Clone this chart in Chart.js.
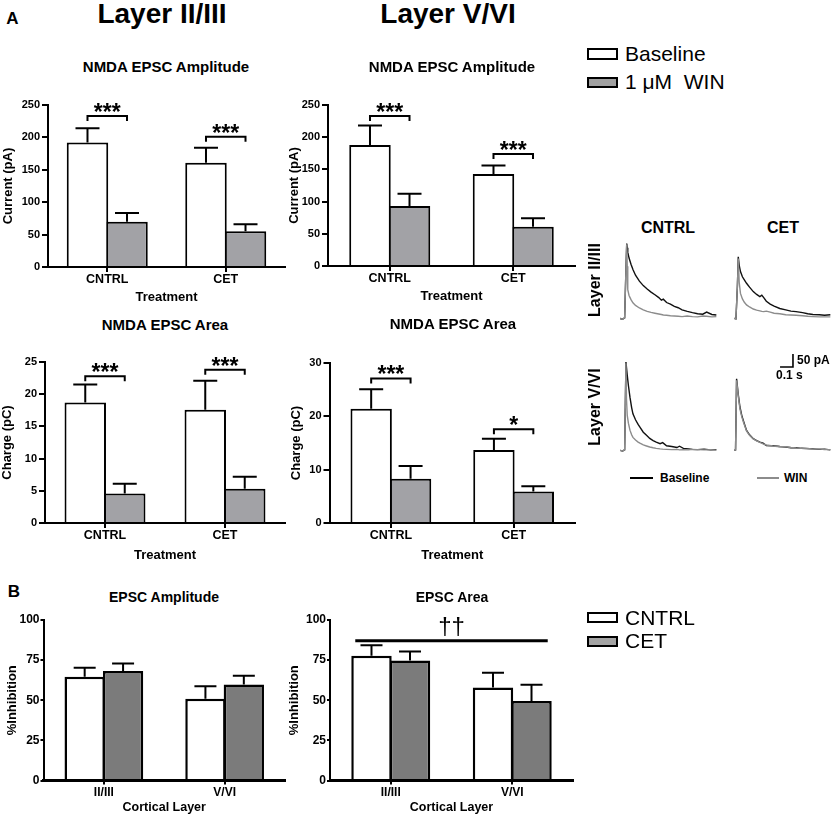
<!DOCTYPE html>
<html>
<head>
<meta charset="utf-8">
<script src="https://cdn.jsdelivr.net/npm/chart.js@4.4.1/dist/chart.umd.min.js"></script>
<style>
  html, body { margin: 0; padding: 0; background: #fff; }
  #stage { position: relative; width: 833px; height: 816px; overflow: hidden; font-family: 'Liberation Sans', Arial, sans-serif; color: #000; }
  #stage canvas { position: absolute; }
  .t { position: absolute; line-height: 0; white-space: pre; }
  .sw { position: absolute; box-sizing: border-box; border: 2px solid #000; }
  .ln { position: absolute; height: 2px; }
</style>
</head>
<body>
<div id="stage"></div>
<script>
// ---- data ----
const treatments = ['CNTRL', 'CET'];
const corticalLayers = ['II/III', 'V/VI'];

// A: NMDA EPSC amplitude (pA) - mean and SEM
const ampL23Baseline = [192, 161];
const ampL23BaselineSem = [22, 23];
const ampL23Win = [70, 55];
const ampL23WinSem = [13.5, 11];
const ampL56Baseline = [188, 143];
const ampL56BaselineSem = [30, 13];
const ampL56Win = [93, 61];
const ampL56WinSem = [19, 13];

// A: NMDA EPSC area (pC)
const areaL23Baseline = [18.7, 17.6];
const areaL23BaselineSem = [2.8, 4.5];
const areaL23Win = [4.6, 5.3];
const areaL23WinSem = [1.5, 1.9];
const areaL56Baseline = [21.4, 13.7];
const areaL56BaselineSem = [3.7, 2.1];
const areaL56Win = [8.3, 5.9];
const areaL56WinSem = [2.4, 1.0];

// significance brackets (height in axis units, label)
const ampL23SigY = [233, 201];
const ampL23SigLabel = ['***', '***'];
const ampL56SigY = [233, 174];
const ampL56SigLabel = ['***', '***'];
const areaL23SigY = [22.8, 23.8];
const areaL23SigLabel = ['***', '***'];
const areaL56SigY = [27.1, 17.6];
const areaL56SigLabel = ['***', '*'];

// B: % inhibition
const inhibAmpCntrl = [64.6, 51];
const inhibAmpCntrlSem = [5.6, 7.8];
const inhibAmpCet = [68.3, 59.8];
const inhibAmpCetSem = [4.6, 5.4];
const inhibAreaCntrl = [77.7, 57.9];
const inhibAreaCntrlSem = [6.5, 9.2];
const inhibAreaCet = [74.8, 49.6];
const inhibAreaCetSem = [5.6, 10];
const inhibAreaLayerSigY = 87;
const inhibAreaLayerSigLabel = '\u2020\u2020';

// y axes: max and step
const ampAxis = [250, 50];
const areaL23Axis = [25, 5];
const areaL56Axis = [30, 10];
const inhibAxis = [100, 25];

// example traces: time (s) and current (pA)
const trL23CntrlT    = [0, 0.02, 0.036, 0.046, 0.052, 0.056, 0.06, 0.07, 0.085, 0.1, 0.12, 0.15, 0.18, 0.21, 0.24, 0.27, 0.3, 0.32, 0.335, 0.36, 0.39, 0.42, 0.45, 0.48, 0.52, 0.56, 0.6, 0.64, 0.67, 0.71, 0.745];
const trL23CntrlBase = [0, -3, 2, 190, 288, 272, 255, 232, 208, 188, 166, 143, 126, 113, 101, 91, 80, 70, 74, 61, 55, 46, 41, 33, 27, 22, 18, 16, 24, 15, 13];
const trL23CntrlWin  = [0, -3, 2, 190, 285, 200, 110, 88, 72, 60, 50, 40, 33, 27, 23, 20, 17, 15, 13, 12, 10, 9, 8, 7, 9, 7, 6, 9, 8, 6, 7];

const trL23CetT    = [0, 0.015, 0.026, 0.033, 0.04, 0.05, 0.065, 0.08, 0.097, 0.12, 0.149, 0.175, 0.2, 0.215, 0.23, 0.25, 0.28, 0.31, 0.354, 0.4, 0.44, 0.48, 0.53, 0.57, 0.61, 0.66, 0.7, 0.745];
const trL23CetBase = [0, -2, 120, 237, 205, 180, 160, 148, 135, 120, 103, 92, 84, 89, 80, 66, 55, 47, 38, 33, 28, 26, 22, 18, 15, 14, 12, 14];
const trL23CetWin  = [0, -2, 120, 230, 140, 96, 75, 62, 52, 44, 36, 32, 29, 27, 26, 28, 24, 20, 18, 14, 13, 12, 10, 8, 7, 6, 6, 6];

const trL56CntrlT    = [0, 0.02, 0.036, 0.046, 0.05, 0.056, 0.065, 0.077, 0.09, 0.1, 0.12, 0.14, 0.154, 0.18, 0.205, 0.23, 0.256, 0.28, 0.31, 0.33, 0.36, 0.4, 0.44, 0.46, 0.49, 0.53, 0.56, 0.6, 0.65, 0.7, 0.745];
const trL56CntrlBase = [0, -2, 2, 340, 320, 290, 250, 205, 165, 141, 118, 100, 90, 70, 58, 46, 38, 32, 26, 30, 18, 15, 11, 16, 8, 6, 4, 3, 5, 2, 3];
const trL56CntrlWin  = [0, -2, 2, 335, 200, 135, 105, 78, 60, 50, 40, 32, 28, 21, 17, 13, 10, 8, 6, 5, 4, 3, 4, 2, 3, 2, 4, 3, 2, 3, 1];

const trL56CetT    = [0, 0.012, 0.02, 0.033, 0.046, 0.06, 0.072, 0.085, 0.097, 0.12, 0.149, 0.175, 0.2, 0.225, 0.25, 0.3, 0.354, 0.4, 0.44, 0.48, 0.52, 0.56, 0.61, 0.65, 0.7, 0.745];
const trL56CetBase = [0, 2, 276, 215, 167, 135, 115, 95, 77, 60, 45, 38, 32, 28, 19, 18, 15, 13, 10, 10, 8, 7, 6, 4, 5, 2];
const trL56CetWin  = [0, 2, 270, 210, 160, 130, 110, 92, 75, 58, 44, 37, 31, 25, 21, 17, 14, 14, 11, 9, 8, 8, 5, 6, 3, 3];

// scale bar: 50 pA / 0.1 s
const scaleBarPa = 50;
const scaleBarSec = 0.1;

// ---- drawing ----
Chart.defaults.font.family = "'Liberation Sans', Arial, sans-serif";
Chart.defaults.color = '#000';
const stage = document.getElementById('stage');

function label(text, x, y, font, align = 'center', rotate = false) {
  const el = document.createElement('div');
  el.className = 't';
  el.textContent = text;
  el.style.font = font;
  el.style.lineHeight = '0';
  el.style.left = x + 'px';
  el.style.top = y + 'px';
  if (rotate) {
    el.style.transformOrigin = '50% 0';
    el.style.transform = 'translate(-50%,0) rotate(-90deg)';
  } else if (align === 'center') {
    el.style.transform = 'translateX(-50%)';
  }
  stage.appendChild(el);
}

function swatch(x, y, w, h, fill) {
  const el = document.createElement('div');
  el.className = 'sw';
  el.style.cssText += `left:${x}px;top:${y}px;width:${w}px;height:${h}px;background:${fill};`;
  stage.appendChild(el);
}

function lineSwatch(x, y, w, color) {
  const el = document.createElement('div');
  el.className = 'ln';
  el.style.cssText += `left:${x}px;top:${y - 1}px;width:${w}px;background:${color};`;
  stage.appendChild(el);
}

function addCanvas(left, top, width, height) {
  const c = document.createElement('canvas');
  c.width = width; c.height = height;
  c.style.left = left + 'px'; c.style.top = top + 'px';
  c.style.width = width + 'px'; c.style.height = height + 'px';
  stage.appendChild(c);
  return c;
}

// error bars (upper SEM only) + x axis line redrawn over the bar bottoms
const errorBarPlugin = {
  id: 'errorBars',
  afterDatasetsDraw(chart, args, opts) {
    const { ctx, chartArea } = chart;
    const ys = chart.scales.y;
    ctx.save();
    ctx.strokeStyle = '#000';
    ctx.lineWidth = opts.width;
    chart.data.datasets.forEach((ds, i) => {
      chart.getDatasetMeta(i).data.forEach((bar, j) => {
        const top = ys.getPixelForValue(ds.data[j] + ds.errorBars[j]);
        ctx.beginPath();
        ctx.moveTo(bar.x, bar.y);
        ctx.lineTo(bar.x, top);
        ctx.moveTo(bar.x - opts.cap / 2, top);
        ctx.lineTo(bar.x + opts.cap / 2, top);
        ctx.stroke();
      });
    });
    const y0 = ys.getPixelForValue(0);
    ctx.lineWidth = opts.axisW;
    ctx.beginPath();
    ctx.moveTo(chartArea.left - 1, y0);
    ctx.lineTo(chartArea.right, y0);
    ctx.stroke();
    ctx.restore();
  }
};

const sigPlugin = {
  id: 'sigMarks',
  afterDatasetsDraw(chart, args, opts) {
    if (!opts.items || !opts.items.length) return;
    const { ctx } = chart;
    const ys = chart.scales.y;
    const m0 = chart.getDatasetMeta(0).data;
    const m1 = chart.getDatasetMeta(1).data;
    ctx.save();
    ctx.strokeStyle = '#000';
    ctx.fillStyle = '#000';
    ctx.textAlign = 'center';
    ctx.textBaseline = 'alphabetic';
    opts.items.forEach(it => {
      const y = ys.getPixelForValue(it.value);
      let x0, x1;
      ctx.beginPath();
      if (it.span) {
        const last = m1[m1.length - 1];
        x0 = m0[0].x - m0[0].width / 2 + 4;
        x1 = last.x + last.width / 2 - 4;
        ctx.lineWidth = 3;
        ctx.moveTo(x0, y); ctx.lineTo(x1, y);
      } else {
        x0 = m0[it.index].x; x1 = m1[it.index].x;
        ctx.lineWidth = 2;
        ctx.moveTo(x0, y + 5); ctx.lineTo(x0, y); ctx.lineTo(x1, y); ctx.lineTo(x1, y + 5);
      }
      ctx.stroke();
      ctx.font = it.font;
      ctx.fillText(it.label, (x0 + x1) / 2, y + it.dy);
    });
    ctx.restore();
  }
};

function sigItems(values, labels) {
  return values.map((v, i) => ({ index: i, value: v, label: labels[i], font: 'bold 23px "Liberation Sans", Arial', dy: 4 }));
}

function barChart(o) {
  const padTop = 10, padRight = 8;
  const top = o.top - padTop;
  const width = Math.round(o.right + padRight - o.canvasLeft);
  const height = Math.round(o.bottom + o.xAxisH - top);
  const canvas = addCanvas(o.canvasLeft, top, width, height);
  return new Chart(canvas, {
    type: 'bar',
    data: {
      labels: o.labels,
      datasets: o.series.map(s => ({
        label: s.label,
        data: s.data,
        errorBars: s.sem,
        backgroundColor: s.fill,
        borderColor: '#000',
        borderWidth: o.barBorder,
        borderSkipped: 'start',
        categoryPercentage: o.catPct,
        barPercentage: 1.05
      }))
    },
    options: {
      responsive: false,
      animation: false,
      layout: { padding: { top: padTop, right: padRight, left: 0, bottom: 0 } },
      plugins: {
        legend: { display: false },
        tooltip: { enabled: false },
        errorBars: { width: 2, cap: o.cap, axisW: o.axisW },
        sigMarks: { items: o.sig || [] }
      },
      scales: {
        x: {
          grid: { offset: false, drawOnChartArea: false, color: '#000', lineWidth: 2, tickLength: o.xTickLen },
          border: { color: '#000', width: o.axisW },
          ticks: { color: '#000', font: { size: o.xTick, weight: 'bold' }, padding: o.xTickPad, maxRotation: 0 },
          title: { display: true, text: o.xTitle, color: '#000', font: { size: o.xTitleSize, weight: 'bold' }, padding: { top: 0, bottom: 0 } },
          afterFit: s => { s.height = o.xAxisH; }
        },
        y: {
          min: 0, max: o.axis[0],
          grid: { drawOnChartArea: false, color: '#000', lineWidth: 2, tickLength: o.yTickLen },
          border: { color: '#000', width: 2 },
          ticks: { stepSize: o.axis[1], color: '#000', font: { size: o.yTick, weight: 'bold' }, padding: o.yTickPad },
          title: { display: true, text: o.yTitle, color: '#000', font: { size: o.yTitleSize, weight: 'bold' }, padding: { top: 0, bottom: 0 } },
          afterFit: s => { s.width = o.axisX - o.canvasLeft; }
        }
      }
    },
    plugins: [errorBarPlugin, sigPlugin]
  });
}

const grayA = '#a2a2a6';
const grayB = '#7b7b7b';
const aStyle = { yTick: 11, xTick: 12.5, xTitleSize: 13, yTitleSize: 13, barBorder: 2, axisW: 2, cap: 24, xTickLen: 5, yTickLen: 6, yTickPad: 2, xTickPad: 0 };
const bStyle = { yTick: 12, xTick: 12, xTitleSize: 12.5, yTitleSize: 13, barBorder: 2.5, axisW: 3, cap: 22, xTickLen: 4, yTickLen: 3, yTickPad: 1, xTickPad: 1 };

barChart(Object.assign({}, aStyle, {
  canvasLeft: 1, axisX: 48, top: 104.5, bottom: 266, right: 285, xAxisH: 38, catPct: 0.667,
  labels: treatments, axis: ampAxis, xTitle: 'Treatment', yTitle: 'Current (pA)',
  series: [
    { label: 'Baseline', data: ampL23Baseline, sem: ampL23BaselineSem, fill: '#fff' },
    { label: '1 \u03bcM WIN', data: ampL23Win, sem: ampL23WinSem, fill: grayA }
  ],
  sig: sigItems(ampL23SigY, ampL23SigLabel)
}));

barChart(Object.assign({}, aStyle, {
  canvasLeft: 287, axisX: 328, top: 105, bottom: 266, right: 575, xAxisH: 38, catPct: 0.64,
  labels: treatments, axis: ampAxis, xTitle: 'Treatment', yTitle: 'Current (pA)',
  series: [
    { label: 'Baseline', data: ampL56Baseline, sem: ampL56BaselineSem, fill: '#fff' },
    { label: '1 \u03bcM WIN', data: ampL56Win, sem: ampL56WinSem, fill: grayA }
  ],
  sig: sigItems(ampL56SigY, ampL56SigLabel)
}));

barChart(Object.assign({}, aStyle, {
  canvasLeft: 0, axisX: 45, top: 362, bottom: 522.5, right: 285, xAxisH: 40, catPct: 0.658,
  labels: treatments, axis: areaL23Axis, xTitle: 'Treatment', yTitle: 'Charge (pC)',
  series: [
    { label: 'Baseline', data: areaL23Baseline, sem: areaL23BaselineSem, fill: '#fff' },
    { label: '1 \u03bcM WIN', data: areaL23Win, sem: areaL23WinSem, fill: grayA }
  ],
  sig: sigItems(areaL23SigY, areaL23SigLabel)
}));

barChart(Object.assign({}, aStyle, {
  canvasLeft: 289, axisX: 329.5, top: 362.5, bottom: 522.5, right: 575, xAxisH: 40, catPct: 0.642,
  labels: treatments, axis: areaL56Axis, xTitle: 'Treatment', yTitle: 'Charge (pC)',
  series: [
    { label: 'Baseline', data: areaL56Baseline, sem: areaL56BaselineSem, fill: '#fff' },
    { label: '1 \u03bcM WIN', data: areaL56Win, sem: areaL56WinSem, fill: grayA }
  ],
  sig: sigItems(areaL56SigY, areaL56SigLabel)
}));

barChart(Object.assign({}, bStyle, {
  canvasLeft: 5, axisX: 43.5, top: 620, bottom: 780, right: 285, xAxisH: 34.5, catPct: 0.636,
  labels: corticalLayers, axis: inhibAxis, xTitle: 'Cortical Layer', yTitle: '%Inhibition',
  series: [
    { label: 'CNTRL', data: inhibAmpCntrl, sem: inhibAmpCntrlSem, fill: '#fff' },
    { label: 'CET', data: inhibAmpCet, sem: inhibAmpCetSem, fill: grayB }
  ]
}));

barChart(Object.assign({}, bStyle, {
  canvasLeft: 287, axisX: 330, top: 619.5, bottom: 779.5, right: 573, xAxisH: 34.5, catPct: 0.634,
  labels: corticalLayers, axis: inhibAxis, xTitle: 'Cortical Layer', yTitle: '%Inhibition',
  series: [
    { label: 'CNTRL', data: inhibAreaCntrl, sem: inhibAreaCntrlSem, fill: '#fff' },
    { label: 'CET', data: inhibAreaCet, sem: inhibAreaCetSem, fill: grayB }
  ],
  sig: [{ span: true, value: inhibAreaLayerSigY, label: inhibAreaLayerSigLabel, font: '24px "Liberation Sans", Arial', dy: -7 }]
}));

// ---- example traces ----
function pts(t, v) { return t.map((x, i) => ({ x, y: v[i] })); }

function traceChart(o) {
  const canvas = addCanvas(o.left, o.top, o.w, o.h);
  const datasets = [
    { data: pts(o.t, o.win), borderColor: '#8c8c8c', borderWidth: 1.4 },
    { data: pts(o.t, o.base), borderColor: '#111', borderWidth: 1.4 }
  ];
  if (o.scaleBar) {
    const [t0, p0] = o.scaleBar;
    datasets.push({
      data: [{ x: t0, y: p0 }, { x: t0 + scaleBarSec, y: p0 }, { x: t0 + scaleBarSec, y: p0 + scaleBarPa }],
      borderColor: '#000', borderWidth: 1.6
    });
  }
  datasets.forEach(d => { d.pointRadius = 0; d.tension = 0; d.fill = false; });
  return new Chart(canvas, {
    type: 'line',
    data: { datasets },
    options: {
      responsive: false,
      animation: false,
      layout: { padding: 0 },
      plugins: { legend: { display: false }, tooltip: { enabled: false } },
      scales: {
        x: { type: 'linear', display: false, min: 0, max: 0.75 },
        y: { display: false, min: o.yRange[0], max: o.yRange[1] }
      }
    }
  });
}

const rowL23 = { top: 238, h: 83, yRange: [-10, 309] };
const rowL56 = { top: 350, h: 103, yRange: [-10, 386.5] };

traceChart({ left: 620, w: 97, top: rowL23.top, h: rowL23.h, yRange: rowL23.yRange, t: trL23CntrlT, base: trL23CntrlBase, win: trL23CntrlWin });
traceChart({ left: 734, w: 97, top: rowL23.top, h: rowL23.h, yRange: rowL23.yRange, t: trL23CetT, base: trL23CetBase, win: trL23CetWin });
traceChart({ left: 620, w: 97, top: rowL56.top, h: rowL56.h, yRange: rowL56.yRange, t: trL56CntrlT, base: trL56CntrlBase, win: trL56CntrlWin });
traceChart({ left: 734, w: 97, top: rowL56.top, h: rowL56.h, yRange: rowL56.yRange, t: trL56CetT, base: trL56CetBase, win: trL56CetWin, scaleBar: [0.356, 321] });

// ---- text ----
const F = '"Liberation Sans", Arial, sans-serif';
label('A', 12.5, 19, `bold 17px ${F}`);
label('B', 14, 592, `bold 17px ${F}`);
label('Layer II/III', 162, 14, `bold 28px ${F}`);
label('Layer V/VI', 448, 14, `bold 28px ${F}`);
label('NMDA EPSC Amplitude', 166, 67, `bold 15px ${F}`);
label('NMDA EPSC Amplitude', 452, 67, `bold 15px ${F}`);
label('NMDA EPSC Area', 165, 325, `bold 15px ${F}`);
label('NMDA EPSC Area', 453, 324, `bold 15px ${F}`);
label('EPSC Amplitude', 164, 597, `bold 14px ${F}`);
label('EPSC Area', 452, 597, `bold 14px ${F}`);

// legends
swatch(587, 48, 31, 12, '#fff');
label('Baseline', 625, 54, `21px ${F}`, 'left');
swatch(587, 77, 31, 11, '#a0a0a0');
label('1 \u03bcM  WIN', 625, 82, `21px ${F}`, 'left');
swatch(587, 612, 31, 11, '#fff');
label('CNTRL', 625, 618, `21px ${F}`, 'left');
swatch(587, 636, 31, 11, '#a4a4a4');
label('CET', 625, 641, `21px ${F}`, 'left');

// trace labels
label('CNTRL', 668, 228, `bold 16px ${F}`);
label('CET', 783, 228, `bold 16px ${F}`);
label('Layer II/III', 595, 280, `bold 16px ${F}`, 'center', true);
label('Layer V/VI', 595, 407, `bold 16px ${F}`, 'center', true);
label('50 pA', 797, 360, `bold 12px ${F}`, 'left');
label('0.1 s', 776, 375, `bold 12px ${F}`, 'left');
lineSwatch(630, 478, 23, '#000');
label('Baseline', 660, 478, `bold 12px ${F}`, 'left');
lineSwatch(757, 478, 22, '#8c8c8c');
label('WIN', 784, 478, `bold 12px ${F}`, 'left');
</script>
</body>
</html>
